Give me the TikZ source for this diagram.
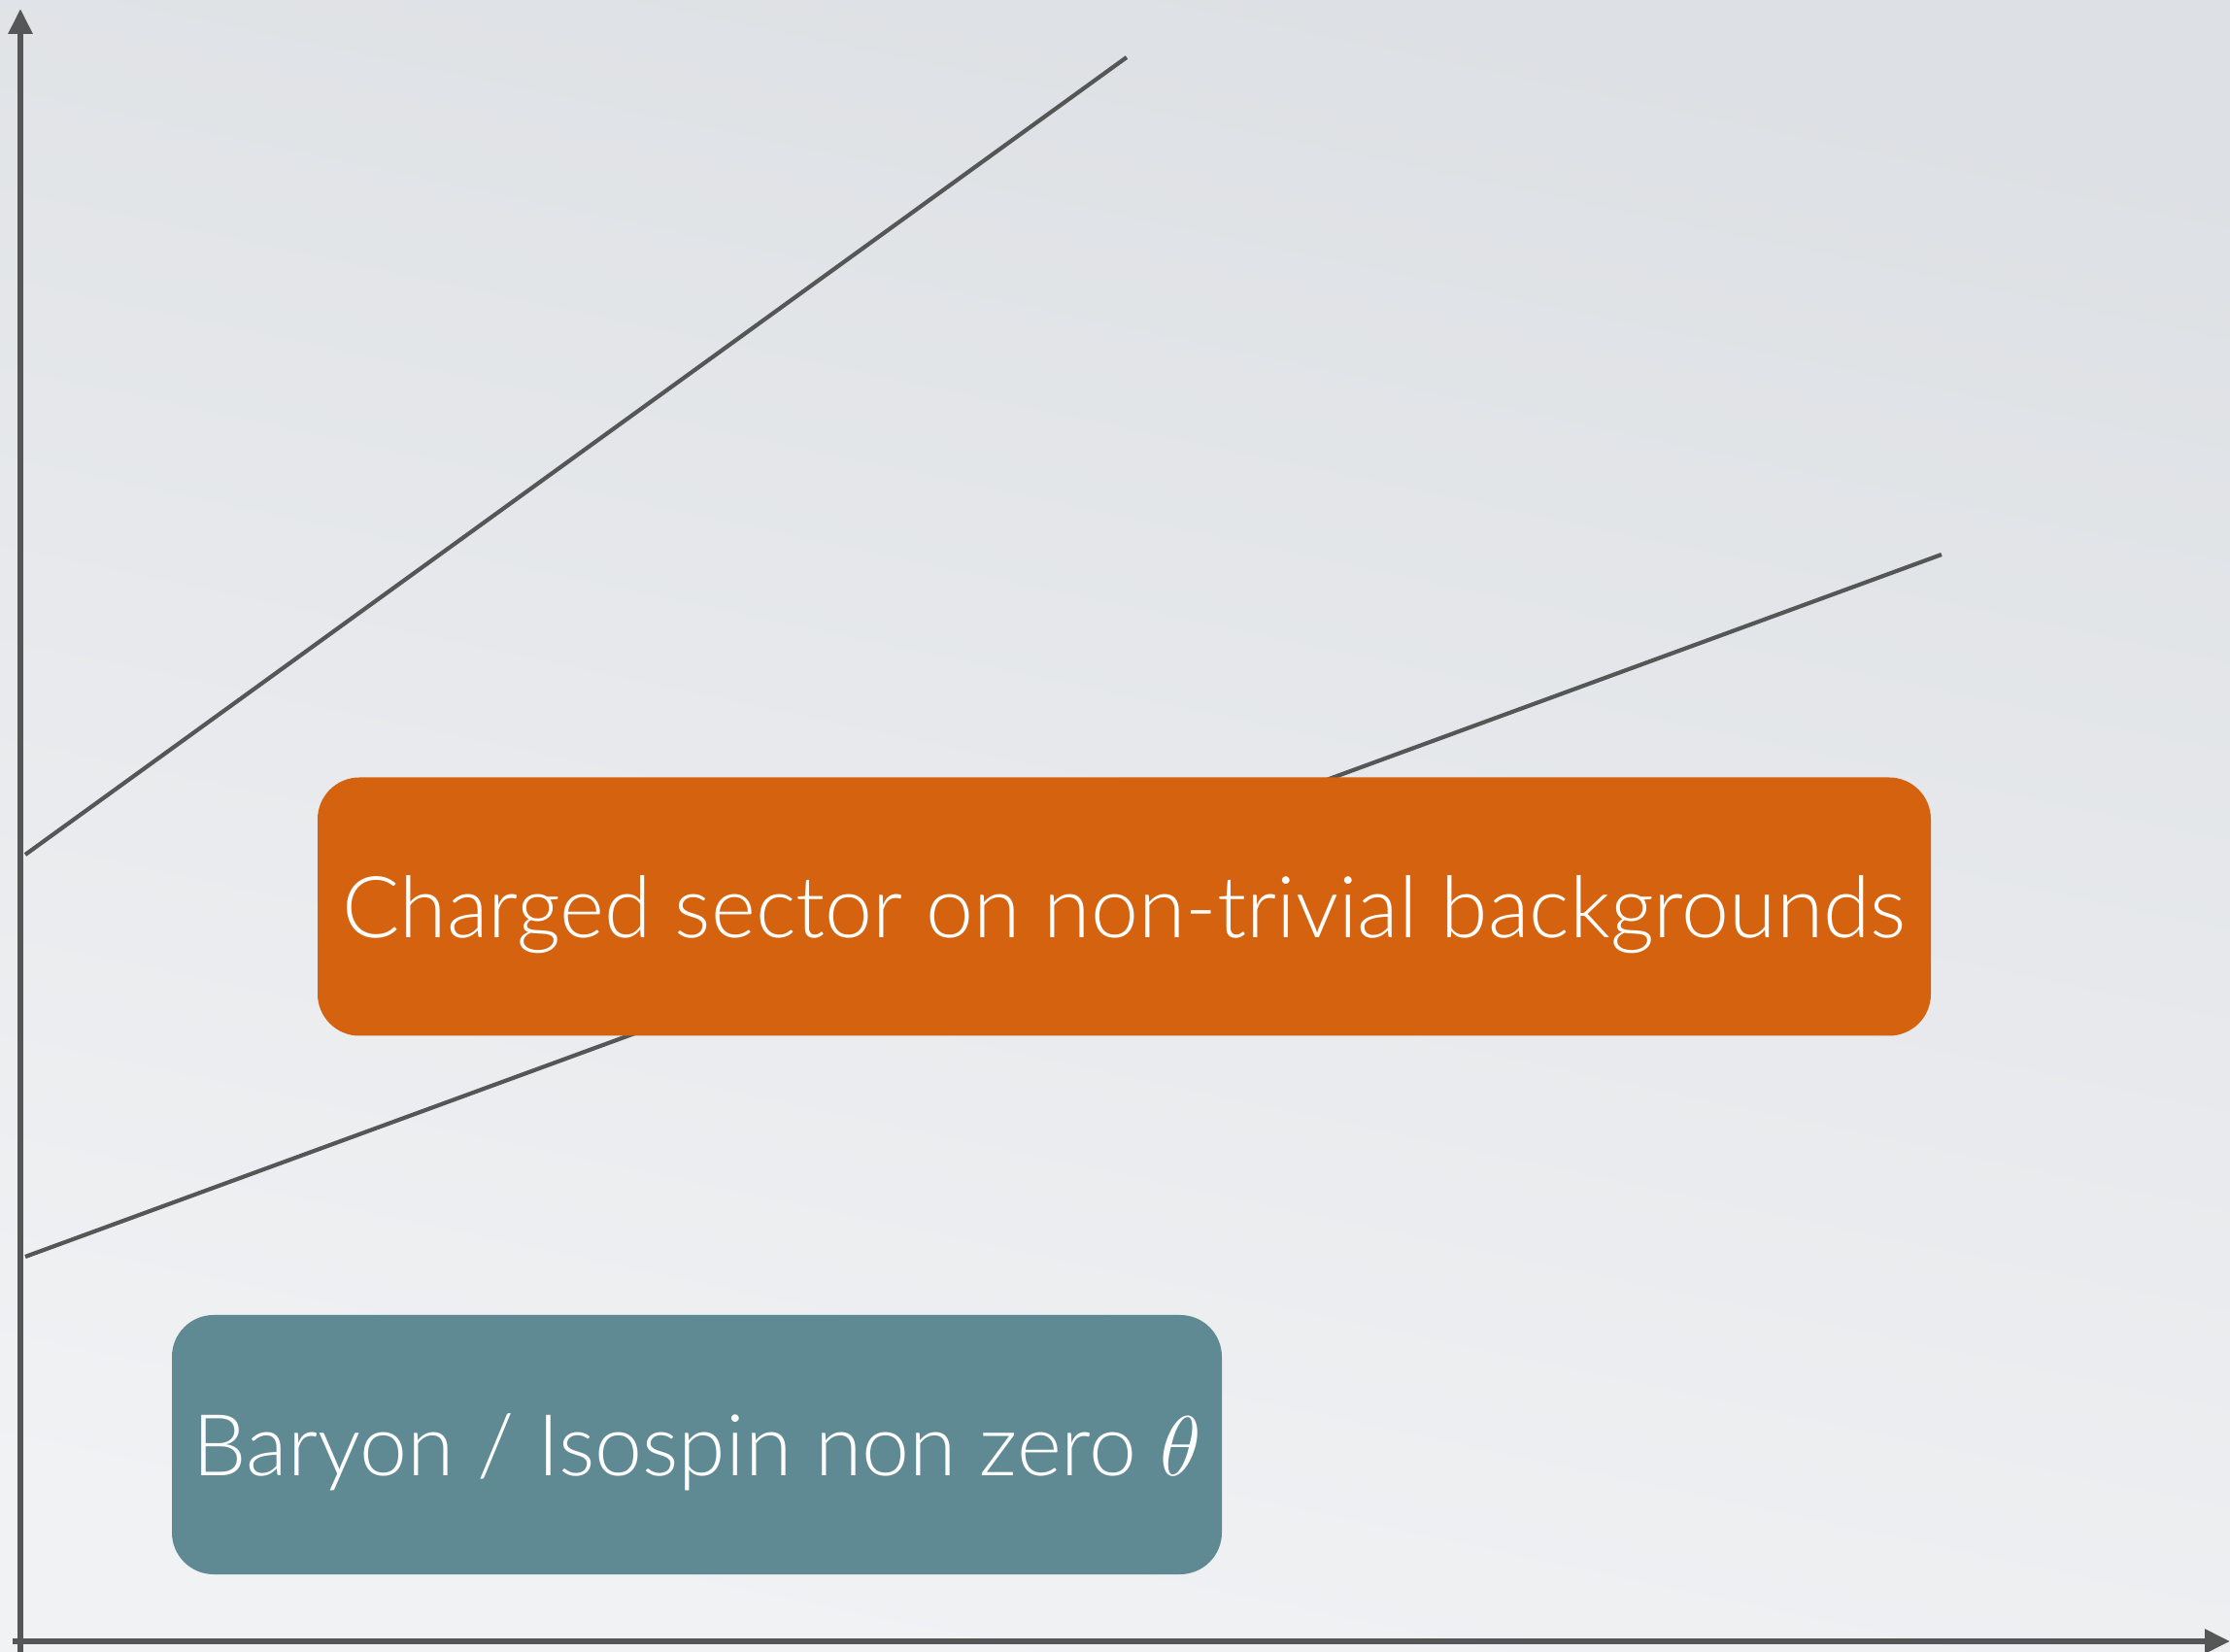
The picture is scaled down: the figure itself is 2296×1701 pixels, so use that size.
\documentclass[tikz,border=0pt]{standalone}
\usepackage{fontspec}
\setmainfont{Lato}[UprightFont={* Light}]
\usepackage{tikz}
\usetikzlibrary{arrows.meta}

\definecolor{axisgray}{HTML}{555757}
\definecolor{boxorange}{HTML}{D5620E}
\definecolor{boxteal}{HTML}{5F8A93}
\definecolor{bgtop}{HTML}{DDE0E4}
\definecolor{bgbottom}{HTML}{F1F2F4}

\begin{document}
\begin{tikzpicture}[x=0.01cm,y=-0.01cm,
  axis/.style={axisgray,line width=1.7pt},
  trend/.style={axisgray,line width=1.2pt},
  sector/.style={rounded corners=4.3mm,text=white,font=\fontsize{25}{30}\selectfont,
    inner sep=0pt,text height=18pt,text depth=0pt}]
% --- background ---
\useasboundingbox (0,0) rectangle (2296,1701);
\shade[top color=bgtop,bottom color=bgbottom,shading angle=-12] (0,0) rectangle (2296,1701);
% --- axes ---
\coordinate (xs) at (13,1690);
\coordinate (xe) at (2296,1690);
\coordinate (ys) at (21,1701);
\coordinate (ye) at (21,9);
\draw[axis,-{Triangle[length=26*0.01cm,width=24*0.01cm]}] (xs) -- (xe);
\draw[axis,-{Triangle[length=26*0.01cm,width=24*0.01cm]}] (ys) -- (ye);
% --- the two lines ---
\coordinate (a1) at (26,880);
\coordinate (a2) at (1160,59);
\coordinate (b1) at (26,1294);
\coordinate (b2) at (1999,571);
\draw[trend] (a1) -- (a2);
\draw[trend] (b1) -- (b2);
% --- the two sectors ---
\node[sector,fill=boxorange,minimum width=1661*0.01cm,minimum height=266*0.01cm]
  (charged) at (1157.5,933.5) {Charged sector on non-trivial backgrounds};
\node[sector,fill=boxteal,minimum width=1081*0.01cm,minimum height=267*0.01cm]
  (baryon) at (717.5,1487.5) {Baryon / Isospin non zero $\theta$};
\end{tikzpicture}
\end{document}
